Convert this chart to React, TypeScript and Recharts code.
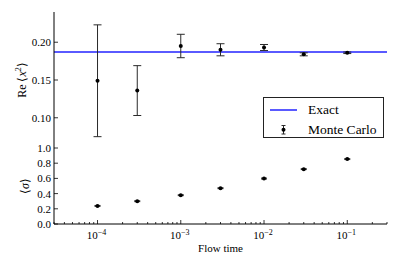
import React from 'react'
import { ComposedChart, Scatter, ErrorBar, XAxis, YAxis, ReferenceLine, Label } from 'recharts'

const FONT = 'Liberation Serif, Times New Roman, serif'
const BLUE = '#2323ff'
const BAR_COLOR = '#2a2a2a'

// flow times where the Monte Carlo runs were made
const FLOW_TIMES = [1e-4, 3e-4, 1e-3, 3e-3, 1e-2, 3e-2, 1e-1]
// Re<x^2> estimates and their errors
const X2_VALUES = [0.149, 0.136, 0.195, 0.190, 0.193, 0.184, 0.186]
const X2_ERRORS = [0.074, 0.033, 0.0155, 0.008, 0.004, 0.002, 0.001]
const EXACT_X2 = 0.187
// <sigma> estimates (errors are tiny)
const SIGMA_VALUES = [0.238, 0.300, 0.379, 0.471, 0.598, 0.722, 0.854]
const SIGMA_ERRORS = [0.006, 0.006, 0.006, 0.006, 0.006, 0.006, 0.006]

const X_DOMAIN = [3e-5, 0.3]
const X_TICKS = [
  3e-5, 4e-5, 5e-5, 6e-5, 7e-5, 8e-5, 9e-5,
  1e-4, 2e-4, 3e-4, 4e-4, 5e-4, 6e-4, 7e-4, 8e-4, 9e-4,
  1e-3, 2e-3, 3e-3, 4e-3, 5e-3, 6e-3, 7e-3, 8e-3, 9e-3,
  1e-2, 2e-2, 3e-2, 4e-2, 5e-2, 6e-2, 7e-2, 8e-2, 9e-2,
  1e-1, 2e-1, 3e-1,
]
const X2_TICKS = [0.1, 0.15, 0.2]
const SIGMA_TICKS = [0, 0.2, 0.4, 0.6, 0.8, 1.0]

const x2Data = FLOW_TIMES.map((t, i) => ({ t, v: X2_VALUES[i], err: X2_ERRORS[i] }))
const sigmaData = FLOW_TIMES.map((t, i) => ({ t, v: SIGMA_VALUES[i], err: SIGMA_ERRORS[i] }))

const isMajor = (v: number) => Math.abs(Math.log10(v) - Math.round(Math.log10(v))) < 1e-6

function XTick(props: any) {
  const { x, y, payload, side, labels } = props
  const major = isMajor(payload.value)
  const len = major ? 4 : 2
  const dy = side === 'top' ? len : -len
  return (
    <g>
      <line x1={x} x2={x} y1={y} y2={y + dy} stroke="#000" strokeWidth={0.8} />
      {labels && major && (
        <text x={x - 1} y={y + 15} textAnchor="middle" style={{ fontFamily: FONT }} fontSize={11} fill="#000">
          10<tspan dy={-4.5} fontSize={8}>{'\u2212' + Math.round(-Math.log10(payload.value))}</tspan>
        </text>
      )}
    </g>
  )
}

function YTick(props: any) {
  const { x, y, payload, side, digits, skipEnds } = props
  const v = payload.value
  if (skipEnds && (v === 0 || v === 1)) return <g />
  const dx = side === 'right' ? -4 : 4
  return (
    <g>
      <line x1={x} x2={x + dx} y1={y} y2={y} stroke="#000" strokeWidth={0.8} />
      {side !== 'right' && (
        <text x={x - 3} y={y + 4} textAnchor="end" style={{ fontFamily: FONT }} fontSize={11} fill="#000">
          {v.toFixed(digits)}
        </text>
      )}
    </g>
  )
}

const Dot = (props: any) => <circle cx={props.cx} cy={props.cy} r={2} fill="#000" />

const yLabel = (kind: 're' | 'sigma') => (props: any) => {
  const vb = props.viewBox
  const cy = vb.y + vb.height / 2
  const cx = kind === 're' ? 22 : 25
  return (
    <text
      x={cx} y={cy} textAnchor="middle" dominantBaseline="central"
      transform={`rotate(-90, ${cx}, ${cy})`} style={{ fontFamily: FONT }} fontSize={12} fill="#000"
    >
      {kind === 're' ? (
        <>
          Re ⟨<tspan fontStyle="italic">x</tspan><tspan dy={-4.5} fontSize={8}>2</tspan><tspan dy={4.5}>⟩</tspan>
        </>
      ) : (
        <>⟨<tspan fontStyle="italic">σ</tspan>⟩</>
      )}
    </text>
  )
}

const axisLine = { stroke: '#000', strokeWidth: 1 }

function Legendbox() {
  return (
    <div
      style={{
        position: 'absolute', left: 263, top: 97, width: 121, height: 41,
        border: '1px solid #222', background: '#fff', boxSizing: 'border-box',
        fontFamily: FONT, fontSize: 13.5, color: '#000',
      }}
    >
      <svg width={121} height={41} style={{ position: 'absolute', left: -1, top: -1 }}>
        <line x1={7} x2={34} y1={13} y2={13} stroke={BLUE} strokeWidth={1.5} />
        <line x1={20.5} x2={20.5} y1={28.5} y2={37} stroke={BAR_COLOR} strokeWidth={1} />
        <line x1={18.5} x2={22.5} y1={28.5} y2={28.5} stroke={BAR_COLOR} strokeWidth={1} />
        <line x1={18.5} x2={22.5} y1={37} y2={37} stroke={BAR_COLOR} strokeWidth={1} />
        <circle cx={20.5} cy={32.7} r={2} fill="#000" />
      </svg>
      <div style={{ position: 'absolute', left: 44, top: 4, lineHeight: '15px' }}>Exact</div>
      <div style={{ position: 'absolute', left: 44, top: 24, lineHeight: '15px' }}>Monte Carlo</div>
    </div>
  )
}

export default function App() {
  return (
    <div style={{ position: 'absolute', left: 0, top: 0, width: 399, height: 266, background: '#fff', fontFamily: FONT }}>
      <div style={{ position: 'absolute', left: 0, top: 0 }}>
        <ComposedChart width={399} height={149} data={x2Data} margin={{ top: 12, right: 12, bottom: 1, left: 0 }}>
          <XAxis
            dataKey="t" type="number" scale="log" domain={X_DOMAIN} allowDataOverflow
            ticks={X_TICKS} interval={0} height={0} tickSize={0} tickMargin={0}
            axisLine={axisLine} tick={(p: any) => <XTick {...p} side="bottom" />}
          />
          <XAxis
            xAxisId="top" orientation="top" dataKey="t" type="number" scale="log" domain={X_DOMAIN}
            allowDataOverflow ticks={X_TICKS} interval={0} height={0} tickSize={0} tickMargin={0}
            axisLine={axisLine} tick={(p: any) => <XTick {...p} side="top" />}
          />
          <YAxis
            dataKey="v" type="number" domain={[0.06, 0.24]} allowDataOverflow ticks={X2_TICKS}
            interval={0} width={54} tickSize={0} tickMargin={0} axisLine={axisLine}
            tick={(p: any) => <YTick {...p} side="left" digits={2} />}
          >
            <Label content={yLabel('re')} />
          </YAxis>
          <YAxis
            yAxisId="r" orientation="right" type="number" domain={[0.06, 0.24]} allowDataOverflow
            ticks={X2_TICKS} interval={0} width={0} tickSize={0} tickMargin={0} axisLine={axisLine}
            tick={(p: any) => <YTick {...p} side="right" digits={2} />}
          />
          <ReferenceLine y={EXACT_X2} stroke={BLUE} strokeWidth={1.5} ifOverflow="hidden" />
          <Scatter dataKey="v" shape={<Dot />} isAnimationActive={false}>
            <ErrorBar dataKey="err" direction="y" width={4} stroke={BAR_COLOR} strokeWidth={1} isAnimationActive={false} />
          </Scatter>
        </ComposedChart>
      </div>
      <div style={{ position: 'absolute', left: 0, top: 138 }}>
        <ComposedChart width={399} height={128} data={sigmaData} margin={{ top: 10, right: 12, bottom: 0, left: 0 }}>
          <XAxis
            dataKey="t" type="number" scale="log" domain={X_DOMAIN} allowDataOverflow
            ticks={X_TICKS} interval={0} height={42} tickSize={0} tickMargin={0}
            axisLine={axisLine} tick={(p: any) => <XTick {...p} side="bottom" labels />}
          >
            <Label value="Flow time" position="insideBottom" offset={14} style={{ fontFamily: FONT }} fontSize={11} fill="#000" />
          </XAxis>
          <XAxis
            xAxisId="top" orientation="top" dataKey="t" type="number" scale="log" domain={X_DOMAIN}
            allowDataOverflow ticks={X_TICKS} interval={0} height={0} tickSize={0} tickMargin={0}
            axisLine={axisLine} tick={(p: any) => <XTick {...p} side="top" />}
          />
          <YAxis
            dataKey="v" type="number" domain={[0, 1]} allowDataOverflow ticks={SIGMA_TICKS}
            interval={0} width={54} tickSize={0} tickMargin={0} axisLine={axisLine}
            tick={(p: any) => <YTick {...p} side="left" digits={1} />}
          >
            <Label content={yLabel('sigma')} />
          </YAxis>
          <YAxis
            yAxisId="r" orientation="right" type="number" domain={[0, 1]} allowDataOverflow
            ticks={SIGMA_TICKS} interval={0} width={0} tickSize={0} tickMargin={0} axisLine={axisLine}
            tick={(p: any) => <YTick {...p} side="right" digits={1} skipEnds />}
          />
          <Scatter dataKey="v" shape={<Dot />} isAnimationActive={false}>
            <ErrorBar dataKey="err" direction="y" width={3} stroke={BAR_COLOR} strokeWidth={1} isAnimationActive={false} />
          </Scatter>
        </ComposedChart>
      </div>
      <Legendbox />
    </div>
  )
}
